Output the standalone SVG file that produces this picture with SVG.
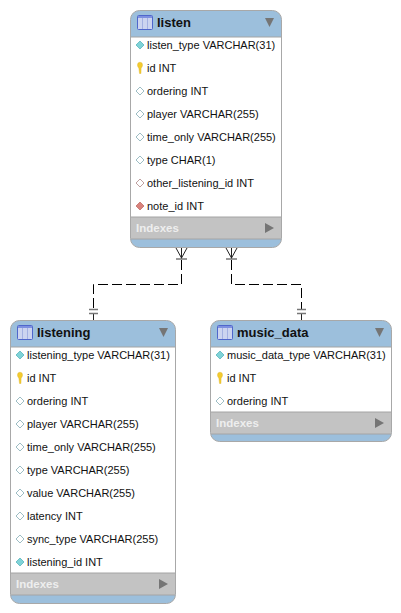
<svg xmlns="http://www.w3.org/2000/svg" width="401" height="613" viewBox="0 0 401 613">
<style>
text{font-family:"Liberation Sans",Arial,sans-serif}
.t{font-size:13px;font-weight:bold;fill:#111}
.c{font-size:11px;fill:#111}
.i{font-size:11.5px;font-weight:bold;fill:#eee}
.body{fill:#9cbfdc;stroke:#a8a8a8;stroke-width:1}
.w{fill:#fff}
.ix{fill:#c3c3c3}
.sep{stroke:#a4a4a4;stroke-width:1}
.tri{fill:#757575}
.dash{fill:none;stroke:#000;stroke-width:1;stroke-dasharray:10 4}
.solid{fill:none;stroke:#222;stroke-width:1}
.bar{fill:none;stroke:#777;stroke-width:1.6}
</style>
<defs>
<g id="tbl">
<rect x="0.5" y="0.500" width="15" height="14" rx="1" fill="#ccd4f0" stroke="#4f66cc"/>
<rect x="1" y="1" width="14" height="2" fill="#7d90e0"/>
<path d="M5.500 3V14M10.500 3V14" stroke="#a3b0e2" stroke-width="1"/>
</g>
<path id="pk" d="M-2.500-3a2.500 2.800 0 0 1 5 0c0 1.800-1 2.300-1.400 3.500L1 5.500h-1.500l-.6-5c-.4-1.200-1.400-1.700-1.400-3.500z" fill="#f3cb2e" stroke="#dcb02a" stroke-width=".4"/>
<path id="fk" d="M0-4L4 0L0 4L-4 0z" fill="#7fd3d8" stroke="#6fc0c6" stroke-width="1"/>
<path id="op" d="M0-4L4 0L0 4L-4 0z" fill="#fff" stroke="#9dbdc4" stroke-width="1"/>
<path id="rop" d="M0-4L4 0L0 4L-4 0z" fill="#fff" stroke="#bfa0a0" stroke-width="1"/>
<path id="rfk" d="M0-4L4 0L0 4L-4 0z" fill="#d9827c" stroke="#c97f7a" stroke-width="1"/>
</defs>

<g id="connectors">
<path class="dash" d="M181.500 260V284.500H93.500V309"/>
<path class="dash" d="M231.500 260V284.500H301.500V309"/>
<path class="solid" d="M181.500 248V259M176 248L181.500 258L187 248M231.500 248V259M226 248L231.500 258L237 248M93.500 314V320M301.500 314V320"/>
<path class="bar" d="M176 259H187M226 259H237M89 309.500H98M89 313.500H98M297 309.500H306M297 313.500H306"/>
</g>

<g id="listen">
<rect class="body" x="130.500" y="10.500" width="151" height="237" rx="9"/>
<rect class="w" x="131" y="37" width="150" height="180"/>
<rect class="ix" x="131" y="217" width="150" height="22"/>
<path class="sep" d="M131 37H281M131 217H281M131 239H281"/>
<use href="#tbl" x="137" y="15"/>
<text class="t" x="157" y="27">listen</text>
<path class="tri" d="M265 18H274L269.500 27z"/>
<use href="#fk" x="140" y="45"/><text class="c" x="147" y="49">listen_type VARCHAR(31)</text>
<use href="#pk" x="140" y="68"/><text class="c" x="147" y="72">id INT</text>
<use href="#op" x="140" y="91"/><text class="c" x="147" y="95">ordering INT</text>
<use href="#op" x="140" y="114"/><text class="c" x="147" y="118">player VARCHAR(255)</text>
<use href="#op" x="140" y="137"/><text class="c" x="147" y="141">time_only VARCHAR(255)</text>
<use href="#op" x="140" y="160"/><text class="c" x="147" y="164">type CHAR(1)</text>
<use href="#rop" x="140" y="183"/><text class="c" x="147" y="187">other_listening_id INT</text>
<use href="#rfk" x="140" y="206"/><text class="c" x="147" y="210">note_id INT</text>
<text class="i" x="136" y="232">Indexes</text>
<path class="tri" d="M265 223L274 228L265 233z"/>
</g>

<g id="listening">
<rect class="body" x="10.500" y="320.500" width="165" height="283" rx="9"/>
<rect class="w" x="11" y="347" width="164" height="226"/>
<rect class="ix" x="11" y="573" width="164" height="22"/>
<path class="sep" d="M11 347H175M11 573H175M11 595H175"/>
<use href="#tbl" x="17" y="325"/>
<text class="t" x="37" y="337">listening</text>
<path class="tri" d="M159 328H168L163.500 337z"/>
<use href="#fk" x="20" y="355"/><text class="c" x="27" y="359">listening_type VARCHAR(31)</text>
<use href="#pk" x="20" y="378"/><text class="c" x="27" y="382">id INT</text>
<use href="#op" x="20" y="401"/><text class="c" x="27" y="405">ordering INT</text>
<use href="#op" x="20" y="424"/><text class="c" x="27" y="428">player VARCHAR(255)</text>
<use href="#op" x="20" y="447"/><text class="c" x="27" y="451">time_only VARCHAR(255)</text>
<use href="#op" x="20" y="470"/><text class="c" x="27" y="474">type VARCHAR(255)</text>
<use href="#op" x="20" y="493"/><text class="c" x="27" y="497">value VARCHAR(255)</text>
<use href="#op" x="20" y="516"/><text class="c" x="27" y="520">latency INT</text>
<use href="#op" x="20" y="539"/><text class="c" x="27" y="543">sync_type VARCHAR(255)</text>
<use href="#fk" x="20" y="562"/><text class="c" x="27" y="566">listening_id INT</text>
<text class="i" x="16" y="588">Indexes</text>
<path class="tri" d="M159 579L168 584L159 589z"/>
</g>

<g id="music_data">
<rect class="body" x="210.500" y="320.500" width="181" height="121" rx="9"/>
<rect class="w" x="211" y="347" width="180" height="65"/>
<rect class="ix" x="211" y="412" width="180" height="22"/>
<path class="sep" d="M211 347H391M211 412H391M211 434H391"/>
<use href="#tbl" x="217" y="325"/>
<text class="t" x="237" y="337">music_data</text>
<path class="tri" d="M375 328H384L379.500 337z"/>
<use href="#fk" x="220" y="355"/><text class="c" x="227" y="359">music_data_type VARCHAR(31)</text>
<use href="#pk" x="220" y="378"/><text class="c" x="227" y="382">id INT</text>
<use href="#op" x="220" y="401"/><text class="c" x="227" y="405">ordering INT</text>
<text class="i" x="216" y="427">Indexes</text>
<path class="tri" d="M375 418L384 423L375 428z"/>
</g>
</svg>
